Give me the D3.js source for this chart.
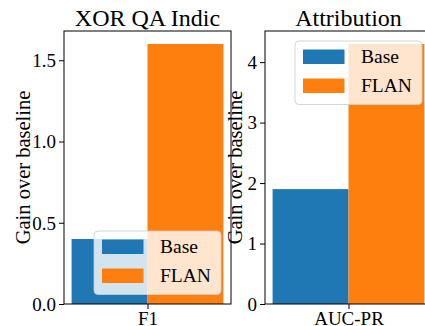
<!DOCTYPE html>
<html>
<head>
<meta charset="utf-8">
<script src="https://cdn.jsdelivr.net/npm/d3@7"></script>
<style>
  html, body { margin: 0; padding: 0; background: #fff; overflow: hidden; }
  svg text { font-family: "Liberation Serif", "DejaVu Serif", serif; fill: #000; }
</style>
</head>
<body>
<svg id="chart" width="425" height="326"></svg>
<script>
// ---- data ----
const panelTitles = ["XOR QA Indic", "Attribution"];
const metricLabels = ["F1", "AUC-PR"];
const seriesNames = ["Base", "FLAN"];
const baseValues = [0.4, 1.9];
const flanValues = [1.6, 4.3];
const leftTicks = [0.0, 0.5, 1.0, 1.5];
const rightTicks = [0, 1, 2, 3, 4];
const yLabel = "Gain over baseline";

const colors = ["#1f77b4", "#ff7f0e"];
const FONT = '"Liberation Serif", "DejaVu Serif", serif';
const svg = d3.select("#chart");

const panels = [
  { x0: 64, x1: 231, ticks: leftTicks, fmt: d3.format(".1f"), legendX: 94, legendY: 231 },
  { x0: 265, x1: 432, ticks: rightTicks, fmt: d3.format("d"), legendX: 295, legendY: 41 }
];
const plotTop = 31, plotBottom = 304;

panels.forEach((p, i) => {
  const vals = [baseValues[i], flanValues[i]];
  const ymax = d3.max(vals) * 1.05;
  const y = d3.scaleLinear().domain([0, ymax]).range([plotBottom, plotTop]);
  const x = d3.scaleLinear().domain([-0.44, 0.44]).range([p.x0, p.x1]);
  const g = svg.append("g").attr("font-family", FONT);

  // bars
  const offsets = [-0.2, 0.2];
  g.selectAll("rect.bar").data(vals).enter().append("rect")
    .attr("class", "bar")
    .attr("x", (d, k) => x(offsets[k] - 0.2))
    .attr("width", (d, k) => x(offsets[k] + 0.2) - x(offsets[k] - 0.2))
    .attr("y", d => y(d))
    .attr("height", d => y(0) - y(d))
    .attr("fill", (d, k) => colors[k]);

  // frame
  g.append("rect")
    .attr("x", p.x0).attr("y", plotTop)
    .attr("width", p.x1 - p.x0).attr("height", plotBottom - plotTop)
    .attr("fill", "none").attr("stroke", "#000").attr("stroke-width", 1);

  // y axis
  const yAxis = d3.axisLeft(y).tickValues(p.ticks).tickFormat(p.fmt).tickSize(5).tickPadding(3);
  const ya = g.append("g").attr("transform", `translate(${p.x0},0)`).call(yAxis)
    .attr("font-family", FONT).attr("font-size", 19);
  ya.select(".domain").remove();
  ya.selectAll("text").attr("dy", "0.33em").style("font-family", FONT).style("font-size", "19px");
  ya.selectAll("line").attr("stroke", "#000");

  // x axis
  const xAxis = d3.axisBottom(x).tickValues([0]).tickFormat(() => metricLabels[i]).tickSize(5).tickPadding(2);
  const xa = g.append("g").attr("transform", `translate(0,${plotBottom})`).call(xAxis)
    .attr("font-family", FONT).attr("font-size", 19);
  xa.select(".domain").remove();
  xa.selectAll("text").attr("dy", "0.75em").style("font-family", FONT).style("font-size", "19px");
  xa.selectAll("line").attr("stroke", "#000");

  // title
  g.append("text")
    .attr("x", (p.x0 + p.x1) / 2).attr("y", 26)
    .attr("text-anchor", "middle").style("font-family", FONT).style("font-size", "24px")
    .text(panelTitles[i]);

  // y label
  const lx = i === 0 ? 30 : 242;
  g.append("text")
    .attr("transform", `translate(${lx},${(plotTop + plotBottom) / 2}) rotate(-90)`)
    .attr("text-anchor", "middle").style("font-family", FONT).style("font-size", "20.5px")
    .text(yLabel);

  // legend
  const lg = g.append("g").attr("transform", `translate(${p.legendX},${p.legendY})`);
  lg.append("rect")
    .attr("x", 0).attr("y", 0).attr("width", 127).attr("height", 63.5)
    .attr("rx", 4).attr("ry", 4)
    .attr("fill", "#fff").attr("fill-opacity", 0.8)
    .attr("stroke", "#cccccc").attr("stroke-opacity", 0.8).attr("stroke-width", 1);
  seriesNames.forEach((name, k) => {
    const cy = 15.5 + k * 29;
    lg.append("rect")
      .attr("x", 8).attr("y", cy - 7).attr("width", 41.5).attr("height", 14.5)
      .attr("fill", colors[k]);
    lg.append("text")
      .attr("x", 66).attr("y", cy + 6.5)
      .style("font-family", FONT).style("font-size", "19.5px")
      .text(name);
  });
});
</script>
</body>
</html>
